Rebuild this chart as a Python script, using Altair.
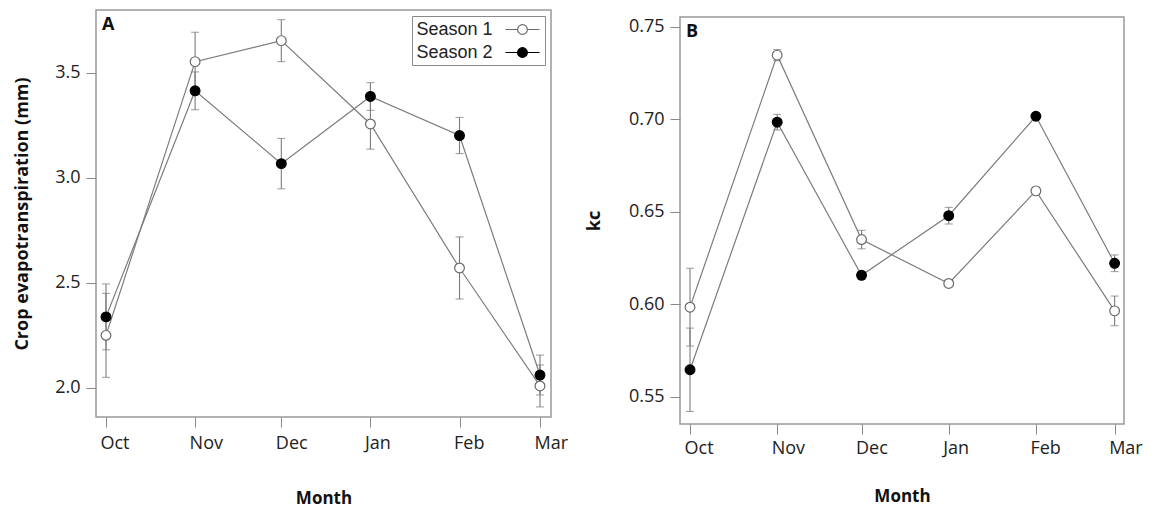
import altair as alt
import pandas as pd

# ---------------- data ----------------
month_dates = ["2020-10-01", "2020-11-01", "2020-12-01", "2021-01-01", "2021-02-01", "2021-03-01"]
seasons = ["Season 1", "Season 2"]

et_season1 = [2.249, 3.553, 3.653, 3.256, 2.570, 2.008]
et_season1_err = [0.200, 0.140, 0.100, 0.120, 0.148, 0.100]
et_season2 = [2.337, 3.414, 3.067, 3.387, 3.201, 2.060]
et_season2_err = [0.157, 0.090, 0.120, 0.066, 0.086, 0.095]
et_ticks = [2.0, 2.5, 3.0, 3.5]

kc_season1 = [0.5985, 0.7346, 0.6350, 0.6113, 0.6613, 0.5965]
kc_season1_err = [0.0210, 0.0030, 0.0050, 0.0018, 0.0020, 0.0080]
kc_season2 = [0.5647, 0.6984, 0.6157, 0.6479, 0.7016, 0.6222]
kc_season2_err = [0.0225, 0.0042, 0.0020, 0.0045, 0.0020, 0.0045]
kc_ticks = [0.55, 0.60, 0.65, 0.70, 0.75]


def make_df(s1, s1e, s2, s2e):
    rows = []
    for name, vals, errs in ((seasons[0], s1, s1e), (seasons[1], s2, s2e)):
        for d, v, e in zip(month_dates, vals, errs):
            rows.append({"date": d, "season": name, "value": v, "lo": v - e, "hi": v + e})
    return pd.DataFrame(rows)


def dt(s, hour=0, minute=0):
    y, m, d = (int(p) for p in s.split("-"))
    return alt.DateTime(year=y, month=m, date=d, hours=hour, minutes=minute, utc=True)


tick_values = [dt(s) for s in month_dates]

GRAY = "#7c7c7c"
FONT = "Open Sans"

# legend glyph: a short line with a circle, drawn to the right of the label
legend_path = (
    "M10.2,0H11.45M12.45,0H13.7"
    "M11.45,0A0.5,0.5,0,1,0,12.45,0A0.5,0.5,0,1,0,11.45,0Z"
)


def panel(df, letter, ytitle, ydomain, yticks, yfmt, xdomain, width, height, legend,
          ytitle_pad, xtitle_pad, xlabel_pad):
    x = alt.X(
        "date:T",
        scale=alt.Scale(type="utc", domain=xdomain),
        axis=alt.Axis(
            title="Month",
            values=tick_values,
            labelExpr="utcFormat(datum.value, '%b')",
            labelOverlap=False,
            labelBound=False,
            labelPadding=xlabel_pad,
            titlePadding=xtitle_pad,
        ),
    )
    yscale = alt.Scale(domain=ydomain, nice=False, zero=False)
    yaxis = alt.Axis(title=ytitle, values=yticks, format=yfmt, titlePadding=ytitle_pad)
    base = alt.Chart(df)
    lines = base.mark_line(color=GRAY, strokeWidth=1.2).encode(
        x=x, y=alt.Y("value:Q", scale=yscale, axis=yaxis), detail="season:N"
    )
    rules = base.mark_rule(color=GRAY, strokeWidth=1.1).encode(
        x=x, y=alt.Y("lo:Q", scale=yscale, axis=yaxis), y2="hi:Q"
    )
    cap_lo = base.mark_tick(color=GRAY, size=8, thickness=1.1, orient="horizontal").encode(
        x=x, y=alt.Y("lo:Q", scale=yscale, axis=yaxis)
    )
    cap_hi = base.mark_tick(color=GRAY, size=8, thickness=1.1, orient="horizontal").encode(
        x=x, y=alt.Y("hi:Q", scale=yscale, axis=yaxis)
    )
    points = base.mark_point(shape="circle", size=95, strokeWidth=1.2, opacity=1, filled=True).encode(
        x=x,
        y=alt.Y("value:Q", scale=yscale, axis=yaxis),
        fill=alt.Fill("season:N", scale=alt.Scale(domain=seasons, range=["white", "black"]), legend=legend),
        stroke=alt.Stroke("season:N", scale=alt.Scale(domain=seasons, range=["#6a6a6a", "black"]), legend=None),
    )
    label = alt.Chart(pd.DataFrame({"panel": [letter]})).mark_text(
        align="left", baseline="middle", font=FONT, fontSize=18, fontWeight="bold", color="#111"
    ).encode(x=alt.value(6), y=alt.value(15), text="panel:N")
    return alt.layer(lines, rules, cap_lo, cap_hi, points, label).properties(width=width, height=height)


legendA = alt.Legend(
    title=None,
    orient="top-right",
    offset=6,
    padding=3,
    strokeColor="#8a8a8a",
    fillColor="white",
    labelFont="Liberation Sans",
    labelFontSize=18,
    labelColor="#222",
    symbolType=legend_path,
    symbolSize=380,
    symbolStrokeColor="#555555",
    symbolStrokeWidth=1.2,
    symbolOffset=-19.5,
    labelOffset=0,
    rowPadding=3,
)

chartA = panel(
    make_df(et_season1, et_season1_err, et_season2, et_season2_err),
    "A", "Crop evapotranspiration (mm)", [1.860, 3.799], et_ticks, ".1f",
    [dt("2020-09-27", 12, 30), dt("2021-03-04", 20)], 455, 407, legendA, 23, 38, 7,
)
chartB = panel(
    make_df(kc_season1, kc_season1_err, kc_season2, kc_season2_err),
    "B", "kc", [0.5354, 0.7552], kc_ticks, ".2f",
    [dt("2020-09-27", 10, 30), dt("2021-03-04", 8)], 444, 407, None, 25, 31, 5,
)

# invisible strip above panel B, so that its frame sits a little lower than panel A's
spacer = (
    alt.Chart(pd.DataFrame({"panel": ["B"]}))
    .mark_point(opacity=0, size=0)
    .properties(width=444, height=1, view=alt.ViewBackground(stroke="transparent"))
)

chart = (
    alt.hconcat(chartA, alt.vconcat(spacer, chartB, spacing=4), spacing=15)
    .resolve_scale(fill="independent", stroke="independent")
    .resolve_legend(fill="independent")
    .properties(padding={"left": 12, "top": 9, "right": 0, "bottom": 0}, background="white")
    .configure_view(stroke="#999999", strokeWidth=1.5)
    .configure_axis(
        grid=False,
        domain=False,
        tickColor="#8a8a8a",
        tickSize=10,
        tickWidth=1,
        labelFont=FONT,
        labelFontSize=18,
        labelColor="#222",
        titleFont=FONT,
        titleFontWeight="bold",
        titleColor="#111",
    )
    .configure_axisX(labelAlign="left", labelOffset=-6, titleFontSize=17)
    .configure_axisY(labelPadding=6, titleFontSize=18)
)

chart.save("out.html", embed_options={"renderer": "svg", "actions": False})
